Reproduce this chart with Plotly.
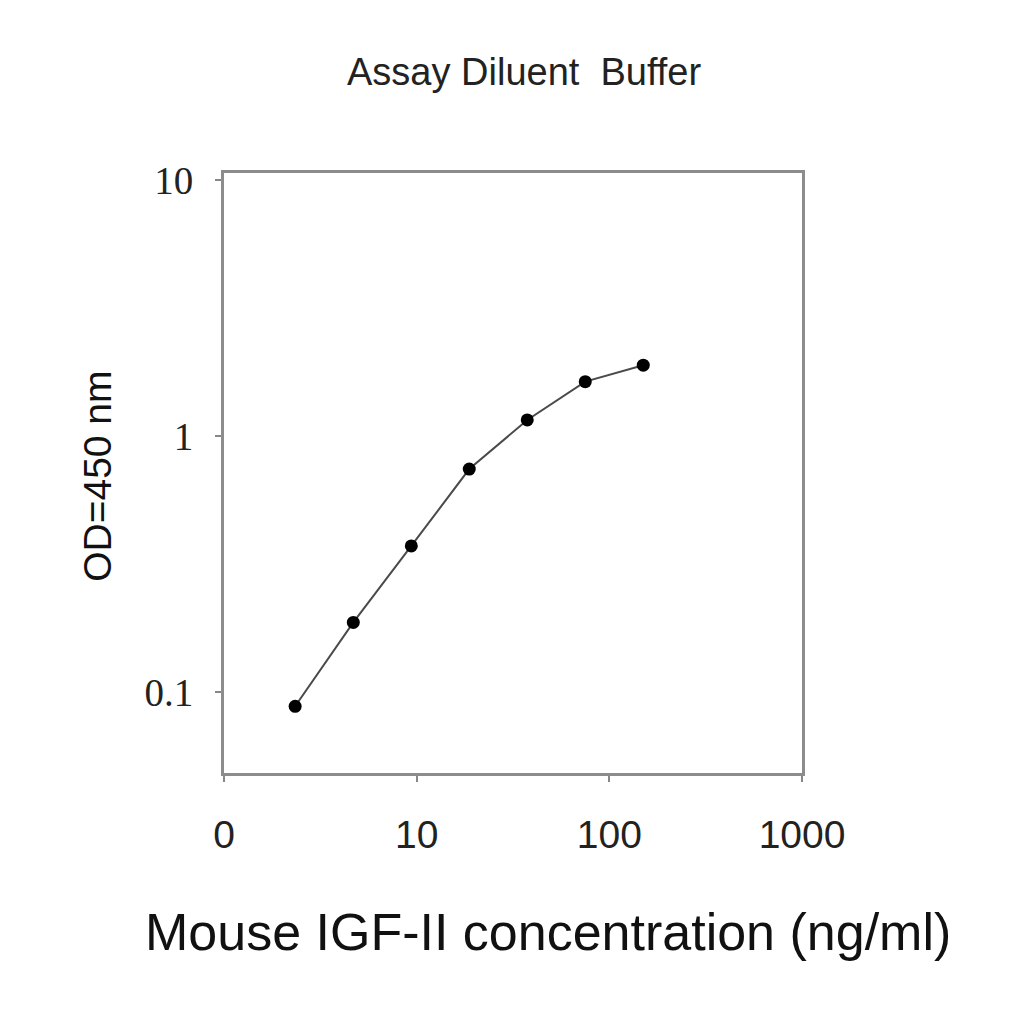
import plotly.graph_objects as go

# standard curve readings
conc = [2.34, 4.69, 9.38, 18.75, 37.5, 75, 150]
od450 = [0.088, 0.187, 0.372, 0.743, 1.155, 1.63, 1.89]

x_tickvals = [1, 10, 100, 1000]
x_ticktext = ["0", "10", "100", "1000"]
y_tickvals = [0.1, 1, 10]
y_ticktext = ["0.1", "1", "10"]

fig = go.Figure()
fig.add_trace(go.Scatter(
    x=conc, y=od450, mode="lines+markers",
    line=dict(color="#4a4a4a", width=2),
    marker=dict(color="black", size=13),
    showlegend=False,
))

fig.update_layout(
    width=1024, height=1024,
    margin=dict(l=216, r=230, t=165, b=259),
    paper_bgcolor="white", plot_bgcolor="white",
    title=dict(text="Assay Diluent  Buffer", x=0.504, y=0.9375, xanchor="center", yanchor="middle",
               font=dict(family="Liberation Sans", size=38, color="#222")),
)

fig.update_xaxes(
    type="log", range=[0, 3],
    tickvals=x_tickvals, ticktext=x_ticktext,
    ticks="outside", ticklen=6, tickcolor="#888", tickwidth=2,
    ticklabelstandoff=19,
    tickfont=dict(family="Liberation Sans", size=39, color="#222"),
    showline=True, linecolor="#8c8c8c", linewidth=3, mirror=True,
    showgrid=False, zeroline=False,
)
fig.update_yaxes(
    type="log", range=[-1.316, 1.027],
    tickvals=y_tickvals, ticktext=y_ticktext,
    ticks="outside", ticklen=6, tickcolor="#888", tickwidth=2,
    ticklabelstandoff=14,
    tickfont=dict(family="Liberation Serif", size=39, color="#222"),
    showline=True, linecolor="#8c8c8c", linewidth=3, mirror=True,
    showgrid=False, zeroline=False,
)

# axis titles
fig.add_annotation(text="Mouse IGF-II concentration (ng/ml)", xref="paper", yref="paper",
                   x=0.56, y=-0.265, showarrow=False, xanchor="center", yanchor="middle",
                   font=dict(family="Liberation Sans", size=52, color="#111"))
fig.add_annotation(text="OD=450 nm", xref="paper", yref="paper", textangle=-90,
                   x=-0.22, y=0.495, showarrow=False, xanchor="center", yanchor="middle",
                   font=dict(family="Liberation Sans", size=39, color="#111"))

fig.write_html("out.html")
